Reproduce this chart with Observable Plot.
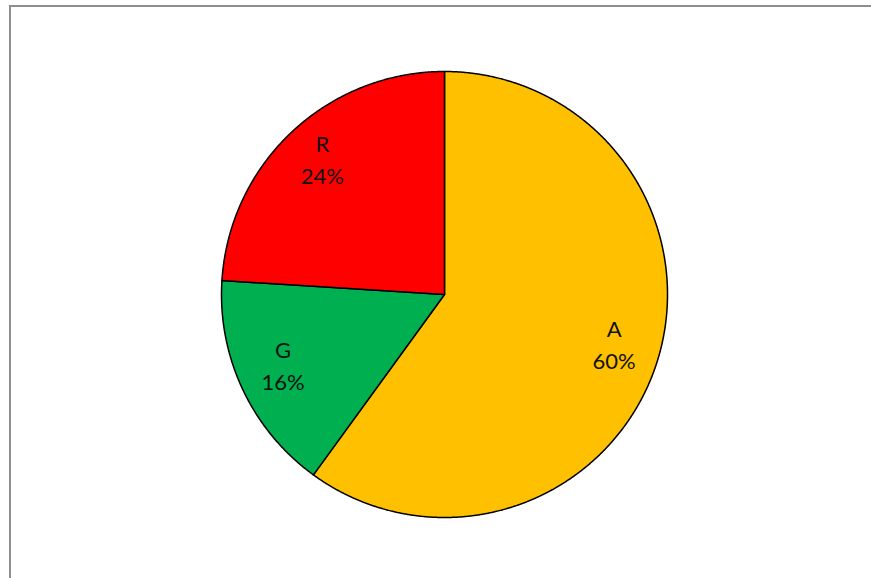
<!DOCTYPE html>
<html>
<head>
<meta charset="utf-8">
<script src="https://cdn.jsdelivr.net/npm/d3@7"></script>
<script src="https://cdn.jsdelivr.net/npm/@observablehq/plot@0.6"></script>
<style>
  html, body { margin: 0; padding: 0; background: #fff; }
  #wrap { position: relative; width: 871px; height: 578px; overflow: hidden; }
  #border { position: absolute; left: 9px; top: 5px; width: 880px; height: 600px;
            border-left: 2px solid #8e8e8e; border-top: 2px solid #8e8e8e; pointer-events: none; }
</style>
</head>
<body>
<div id="wrap"><div id="chart"></div><div id="border"></div></div>
<script>
const categories = ["A", "G", "R"];
const values = [60, 16, 24];
const colors = ["#FFC000", "#00B050", "#FF0000"];

const total = d3.sum(values);
let cum = 0;
const slices = categories.map((name, i) => {
  const a0 = cum / total * 2 * Math.PI;
  cum += values[i];
  const a1 = cum / total * 2 * Math.PI;
  const pts = [{x: 0, y: 0}];
  const n = Math.max(2, Math.ceil((a1 - a0) / (Math.PI / 720)));
  for (let k = 0; k <= n; k++) {
    const a = a0 + (a1 - a0) * k / n;
    pts.push({x: Math.sin(a), y: Math.cos(a)});
  }
  pts.push({x: 0, y: 0});
  const am = (a0 + a1) / 2;
  return {name, value: values[i], color: colors[i], pts,
          lx: 0.8 * Math.sin(am), ly: 0.8 * Math.cos(am),
          label: `${name}\n${Math.round(values[i] / total * 100)}%`};
});

const chart = Plot.plot({
  width: 871,
  height: 578,
  marginLeft: 221,
  marginRight: 204,
  marginTop: 71,
  marginBottom: 61,
  x: {domain: [-1, 1], axis: null},
  y: {domain: [-1, 1], axis: null},
  style: {background: "#fff", fontFamily: "Lato, 'Open Sans', sans-serif"},
  marks: [
    ...slices.map(s => Plot.line(s.pts, {x: "x", y: "y", fill: s.color, stroke: "#000",
      strokeWidth: 1.5, strokeLinejoin: "round", curve: "linear"})),
    Plot.text(slices, {x: "lx", y: "ly", text: "label", fontSize: 22, lineHeight: 1.45,
      fill: "#111", dy: -7, fontFamily: "Lato, 'Open Sans', sans-serif"})
  ]
});
document.getElementById("chart").appendChild(chart);
</script>
</body>
</html>
